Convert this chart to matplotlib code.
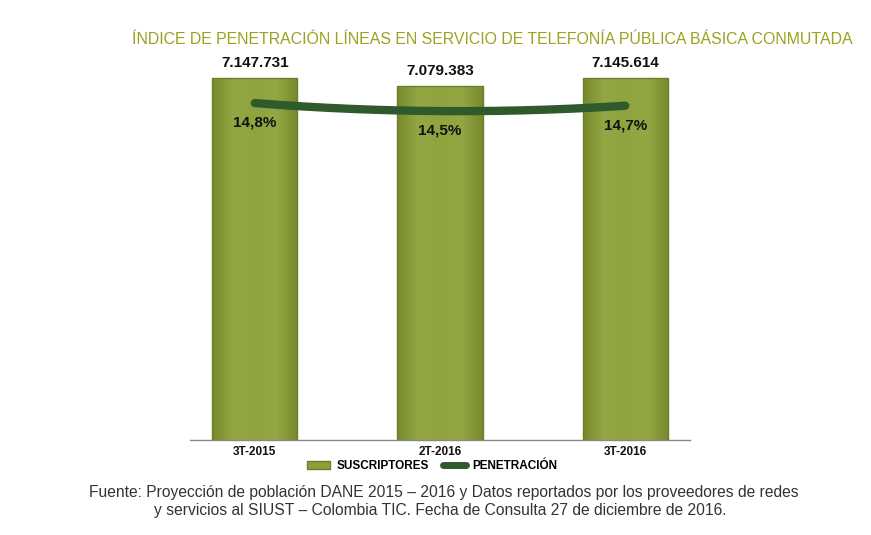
import matplotlib
matplotlib.use("Agg")
import matplotlib.pyplot as plt
import numpy as np
from matplotlib.patches import Patch
from matplotlib.lines import Line2D
from matplotlib.colors import LinearSegmentedColormap

categories = ["3T-2015", "2T-2016", "3T-2016"]
suscriptores = [7147731, 7079383, 7145614]
penetracion = [14.8, 14.5, 14.7]
bar_labels = ["7.147.731", "7.079.383", "7.145.614"]
pen_labels = ["14,8%", "14,5%", "14,7%"]

fam = ["Liberation Sans", "DejaVu Sans"]
plt.rcParams['font.family'] = fam

fig = plt.figure(figsize=(8.71, 5.35), dpi=100)
W, H = 871, 535
ax = fig.add_axes([190 / W, 1 - 440 / H, 500 / W, 380 / H])
x = np.arange(len(categories))
bar_color = "#8CA03A"
edge_color = "#6E7E2A"
bars = ax.bar(x, suscriptores, width=0.46, color=bar_color, edgecolor=edge_color, linewidth=1.0, zorder=2)
ax.set_xlim(-0.35, 2.35)
ax.set_ylim(4000000, 7304000)

cmap = LinearSegmentedColormap.from_list("bev", ["#76892C", "#93A844", "#8FA43F", "#93A844", "#76892C"])
grad = np.linspace(0, 1, 256).reshape(1, -1)
for b in bars:
    x0, y0, w, h = b.get_x(), b.get_y(), b.get_width(), b.get_height()
    im = ax.imshow(grad, cmap=cmap, extent=[x0, x0 + w, 4000000, y0 + h], aspect="auto", zorder=2.1)
    im.set_clip_path(b)
    b.set_zorder(2.2)
    b.set_facecolor("none")
ax.set_xlim(-0.35, 2.35)
ax.set_ylim(4000000, 7304000)

for xi, v, lab in zip(x, suscriptores, bar_labels):
    ax.annotate(lab, (xi, v), xytext=(0, 6), textcoords="offset points", ha="center", va="bottom",
                fontsize=11, fontweight="bold", color="#111111")
ax.set_xticks(x)
ax.set_xticklabels(categories, fontsize=8.5, fontweight="bold", color="#111111")
ax.tick_params(axis="x", length=0, pad=4)
ax.set_yticks([])
for s in ["top", "right", "left"]:
    ax.spines[s].set_visible(False)
ax.spines["bottom"].set_color("#888888")
ax.spines["bottom"].set_linewidth(1)

ax2 = ax.twinx()
ax2.set_ylim(2.2, 16.41)
xs = np.linspace(0, 2, 200)
coef = np.polyfit(x, penetracion, 2)
ax2.plot(xs, np.polyval(coef, xs), color="#2F5A2C", linewidth=6, solid_capstyle="round", zorder=3)
for xi, v, lab in zip(x, penetracion, pen_labels):
    ax2.annotate(lab, (xi, v), xytext=(0, -9), textcoords="offset points", ha="center", va="top",
                 fontsize=11, fontweight="bold", color="#111111")
ax2.set_yticks([])
for s in ["top", "right", "left", "bottom"]:
    ax2.spines[s].set_visible(False)

title = fig.text(492 / W, 1 - 40 / H,
                 "ÍNDICE DE PENETRACIÓN LÍNEAS EN SERVICIO DE TELEFONÍA PÚBLICA BÁSICA CONMUTADA",
                 ha="center", va="center", fontsize=14, color="#9AA21E")

handles = [Patch(facecolor=bar_color, edgecolor=edge_color, label="SUSCRIPTORES"),
           Line2D([0], [0], color="#2F5A2C", linewidth=5, solid_capstyle="round", label="PENETRACIÓN")]
fig.legend(handles=handles, loc="center", bbox_to_anchor=(432 / W, 1 - 466 / H), ncol=2, frameon=False,
           prop={"family": fam, "weight": "bold", "size": 8.5}, handlelength=2.0, handletextpad=0.5,
           columnspacing=1.2)

foot1 = fig.text(444 / W, 1 - 493 / H,
                 "Fuente: Proyección de población DANE 2015 – 2016 y Datos reportados por los proveedores de redes",
                 ha="center", va="center", fontsize=12, color="#333333")
foot2 = fig.text(440 / W, 1 - 510 / H,
                 "y servicios al SIUST – Colombia TIC. Fecha de Consulta 27 de diciembre de 2016.",
                 ha="center", va="center", fontsize=12, color="#333333")

fig.canvas.draw()
r = fig.canvas.get_renderer()
tw = title.get_window_extent(r).width
title.set_fontsize(title.get_fontsize() * 725 / tw)
fw = foot1.get_window_extent(r).width
fs = foot1.get_fontsize() * 712 / fw
foot1.set_fontsize(fs)
foot2.set_fontsize(fs)

fig.savefig("out.png", dpi=100)
